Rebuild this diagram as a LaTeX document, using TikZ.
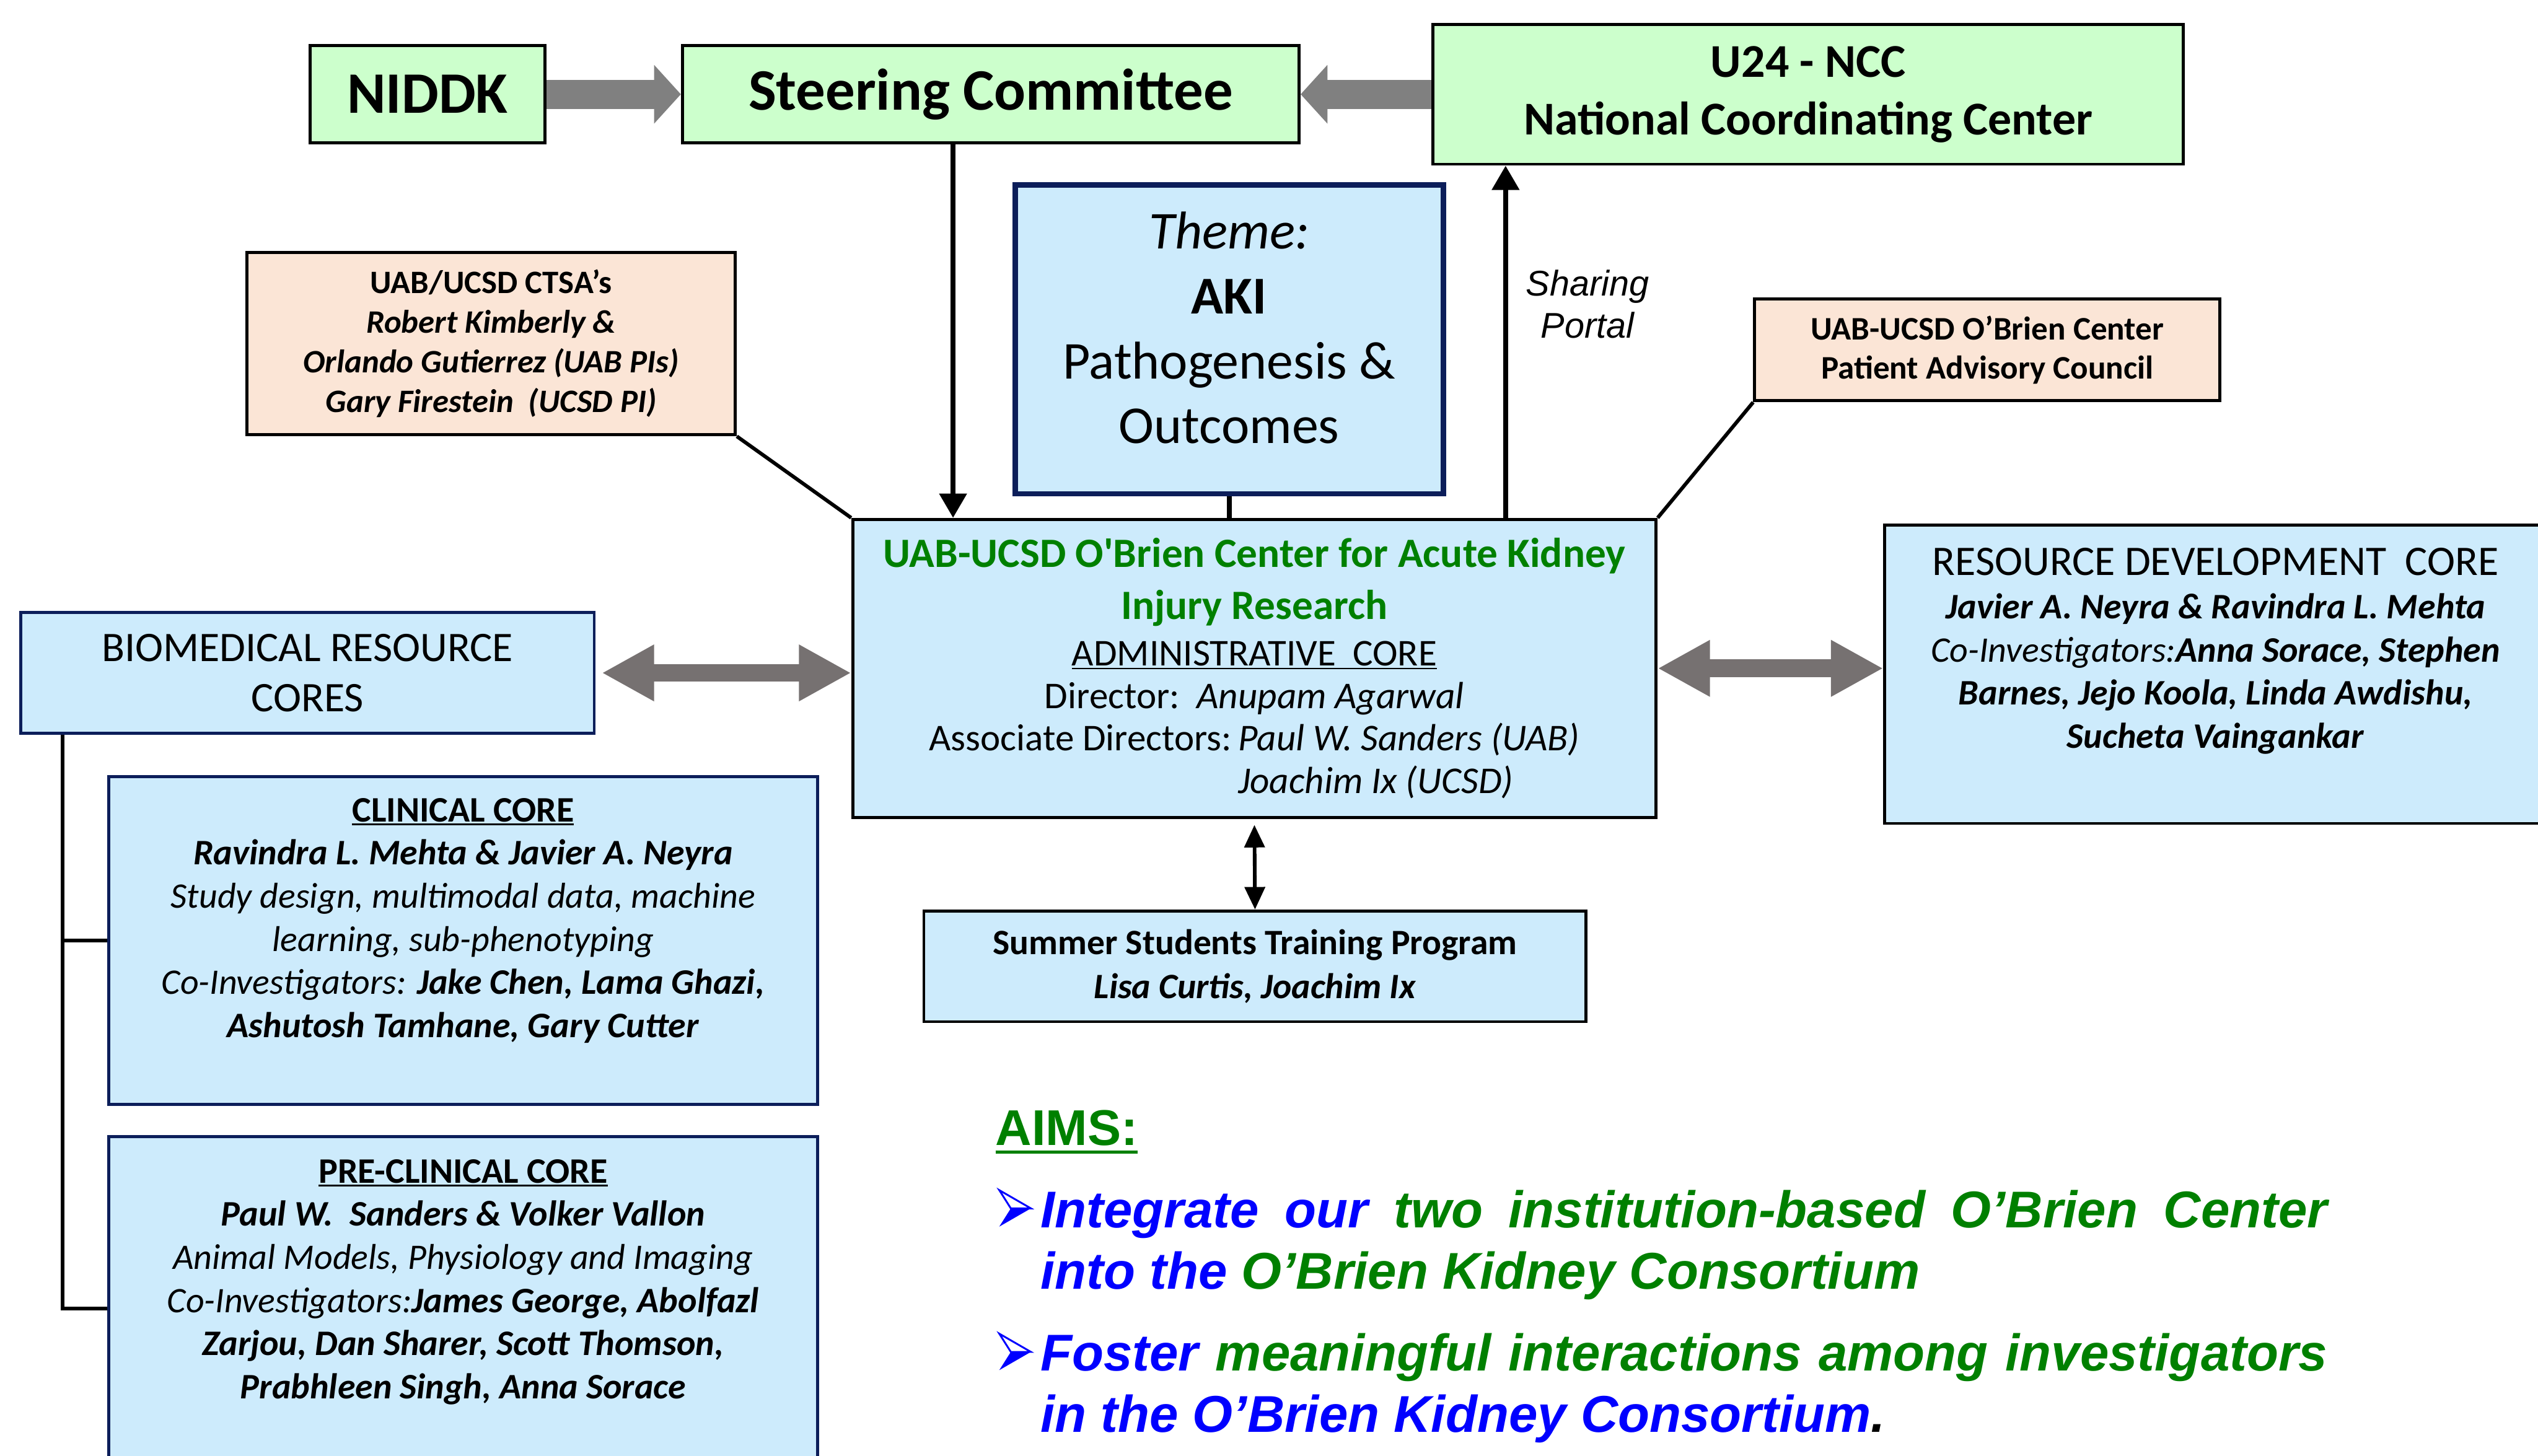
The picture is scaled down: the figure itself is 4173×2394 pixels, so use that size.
\documentclass[tikz,border=0pt]{standalone}
\usepackage{fontspec}
\setmainfont{Carlito}
\newfontfamily\arialfont{Liberation Sans}
\usetikzlibrary{arrows.meta}

\definecolor{boxgreen}{RGB}{204,255,204}
\definecolor{boxblue}{RGB}{205,235,252}
\definecolor{boxpeach}{RGB}{251,229,214}
\definecolor{navy}{RGB}{12,30,90}
\definecolor{flowgray}{RGB}{128,128,128}
\definecolor{pairgray}{RGB}{118,113,113}
\definecolor{titlegreen}{RGB}{0,128,0}
\definecolor{aimblue}{RGB}{0,0,255}

\newcommand{\fs}[2]{\fontsize{#1}{#2}\selectfont}
% underline with own gap and thickness
\newcommand{\ulbox}[3]{\setbox0=\hbox{#3}\rlap{\rule[-#1]{\wd0}{#2}}\box0}
\newcommand{\bi}[1]{\textbf{\textit{#1}}}

\begin{document}
\begin{tikzpicture}[
		x=0.1mm, y=-0.1mm,
		box/.style = {draw, line width=0.5mm, inner sep=0pt, align=center},
		greenbox/.style = {box, fill=boxgreen},
		bluebox/.style = {box, fill=boxblue},
		peachbox/.style = {box, fill=boxpeach},
		corebox/.style = {box, fill=boxblue, draw=navy},
		coretext/.style = {anchor=north, align=center, inner sep=0pt, font=\fs{16.8}{20.2}},
		aim/.style = {anchor=north west, inner sep=0pt, text width=211.6mm, align=justify,
			font=\arialfont\bfseries\itshape\fs{24.2}{28.7}},
		link/.style = {line width=0.6mm},
		flow/.style = {line width=4.8mm, flowgray},
		pair/.style = {pairgray},
		flowhead/.tip = {Triangle[length=4.4mm,width=9.4mm]},
		pairhead/.tip = {Triangle[length=8.6mm,width=8.7mm]},
		linkhead/.tip = {Triangle[length=4mm,width=4.4mm]},
		smallhead/.tip = {Triangle[length=3.7mm,width=3.3mm]}
	]
	\useasboundingbox (0,0) rectangle (4173,2394);
	\clip (0,0) rectangle (4173,2394);

	% Top row.
	\node[greenbox, minimum width=38.6mm, minimum height=16mm, font=\fs{27.5}{33}\bfseries] (niddk) at (703,155) {NIDDK};
	\node[greenbox, minimum width=101.4mm, minimum height=16mm, font=\fs{27.5}{33}\bfseries] (steer) at (1629,155) {Steering Committee};
	\node[greenbox, minimum width=123.4mm, minimum height=23mm, font=\fs{22}{27}\bfseries] (ncc) at (2973,155) {U24 - NCC\\National Coordinating Center};

	% Theme and advisors.
	\node[bluebox, draw=navy, line width=0.9mm, minimum width=70.4mm, minimum height=50.8mm] (theme) at (2021,558) {};
	\node[align=center, inner sep=0pt, font=\fs{24.9}{30.4}] (themetxt) at ([yshift=1.9mm]theme.center)
		{\textit{Theme:}\\\textbf{AKI}\\Pathogenesis \&\\Outcomes};
	\node[peachbox, minimum width=80.3mm, minimum height=30mm, font=\fs{15.3}{18.5}\bfseries] (ctsa) at (807.5,565)
		{UAB/UCSD CTSA’s\\\textit{Robert Kimberly \&}\\\textit{Orlando Gutierrez (UAB PIs)}\\\textit{Gary Firestein~~(UCSD PI)}};
	\node[peachbox, minimum width=76.5mm, minimum height=16.7mm, font=\fs{15.4}{18.5}\bfseries] (pac) at (3267.5,575.5)
		{UAB-UCSD O’Brien Center\\Patient Advisory Council};
	\node[font=\arialfont\itshape\fs{16.7}{19.6}, align=center] (portal) at (2610,500) {Sharing\\Portal};

	% Administrative core.
	\node[bluebox, minimum width=132.1mm, minimum height=49mm, font=\fs{17.7}{19.9}] (admin) at (2062.5,1099)
		{{\color{titlegreen}\fs{19.5}{19.9}\bfseries UAB-UCSD O\textquotesingle Brien Center for Acute Kidney}\\[1.5mm]
		{\color{titlegreen}\fs{19.5}{19.9}\bfseries Injury Research}\\[0.7mm]
		\ulbox{0.6mm}{0.25mm}{ADMINISTRATIVE~~CORE}\\
		Director:~~\textit{Anupam Agarwal}\\
		Associate Directors:\,\textit{Paul W. Sanders (UAB)}\\
		\phantom{Associate Directors:\,}\rlap{\textit{Joachim Ix (UCSD)}}\phantom{\textit{Paul W. Sanders (UAB)}}};
	\node[bluebox, minimum width=108.9mm, minimum height=18.2mm, font=\fs{16.7}{20.5}\bfseries] (summer) at (2063.5,1589)
		{Summer Students Training Program\\\textit{Lisa Curtis, Joachim Ix}};

	% Biomedical resource cores.
	\node[corebox, minimum width=94.3mm, minimum height=19.9mm, font=\fs{19.7}{23.6}] (brc) at (505.5,1106.5) {BIOMEDICAL RESOURCE\\CORES};
	\node[corebox, minimum width=116.5mm, minimum height=53.9mm] (clin) at (761.5,1546.5) {};
	\node[corebox, minimum width=116.5mm, minimum height=56.6mm] (preclin) at (761.5,2152) {};
	\node[coretext] (clintxt) at ([yshift=-3.7mm]clin.north)
		{\textbf{\ulbox{0.6mm}{0.25mm}{CLINICAL CORE}}\\
		\bi{Ravindra L. Mehta \& Javier A. Neyra}\\
		\textit{Study design, multimodal data, machine}\\
		\textit{learning, sub-phenotyping}\\
		\textit{Co-Investigators:} \bi{Jake Chen, Lama Ghazi,}\\
		\bi{Ashutosh Tamhane, Gary Cutter}};
	\node[coretext] (preclintxt) at ([yshift=-3.9mm]preclin.north)
		{\textbf{\ulbox{0.6mm}{0.25mm}{PRE-CLINICAL CORE}}\\
		\bi{Paul W.~~Sanders \& Volker Vallon}\\
		\textit{Animal Models, Physiology and Imaging}\\
		\textit{Co-Investigators:}\bi{James George, Abolfazl}\\
		\bi{Zarjou, Dan Sharer, Scott Thomson,}\\
		\bi{Prabhleen Singh, Anna Sorace}};

	% Resource development core.
	\node[bluebox, minimum width=108.8mm, minimum height=49.1mm] (rdc) at (3643,1108.5) {};
	\node[coretext] (rdctxt) at ([yshift=-4mm]rdc.north)
		{{\fs{19.7}{20.2}RESOURCE DEVELOPMENT~~CORE}\\
		\bi{Javier A. Neyra \& Ravindra L. Mehta}\\
		\textit{Co-Investigators:}\bi{Anna Sorace, Stephen}\\
		\bi{Barnes, Jejo Koola, Linda Awdishu,}\\
		\bi{Sucheta Vaingankar}};

	% Aims.
	\node[anchor=base west, inner sep=0pt, font=\arialfont\bfseries\fs{23.5}{28}, text=titlegreen] (aims) at (1636,1883)
		{\ulbox{1.4mm}{0.5mm}{AIMS:}};
	\node[aim] (aimone) at (1710,1956)
		{\color{aimblue}Integrate our \color{titlegreen}two institution-based O’Brien Center
		\color{aimblue}into the \color{titlegreen}O’Brien Kidney Consortium};
	\node[aim] (aimtwo) at (1710,2192)
		{\color{aimblue}Foster \color{titlegreen}meaningful interactions among investigators
		\color{aimblue}in the O’Brien Kidney Consortium\color{black}.};
	\foreach \y in {1987,2223} {
		\draw[aimblue, line width=0.3mm] (1643,\y-30) -- (1695,\y) -- (1662,\y) -- cycle;
		\fill[aimblue] (1662,\y) -- (1695,\y) -- (1643,\y+30) -- cycle;
	}

	% Connectors.
	\coordinate (steerdrop) at ([xshift=-6.2mm]steer.south);
	\coordinate (portalfoot) at ([xshift=-25mm]admin.north east);
	\coordinate (trunk) at ([xshift=7.1mm]brc.south west);

	\draw[flow, -flowhead] (niddk) -- (steer);
	\draw[flow, -flowhead] (ncc) -- (steer);
	\draw[pair, line width=2.8mm, pairhead-pairhead] ([xshift=1mm]brc.east) -- (brc.east -| admin.west);
	\draw[pair, line width=3mm, pairhead-pairhead] (admin.east) -- (admin.east -| rdc.west);

	\draw[link, line width=0.8mm, -linkhead] (steerdrop) -- (steerdrop |- admin.north);
	\draw[link, line width=0.8mm] (theme.south) -- (theme.south |- admin.north);
	\draw[link, line width=0.8mm, -linkhead] (portalfoot) -- (portalfoot |- ncc.south);
	\draw[link] (ctsa.south east) -- (admin.north west);
	\draw[link] (pac.south west) -- (admin.north east);
	\draw[link, smallhead-smallhead] ([yshift=-1mm]admin.south) -- (summer.north);
	\draw[link] (trunk) |- (clin.west);
	\draw[link] (trunk) |- (preclin.west);
\end{tikzpicture}
\end{document}
